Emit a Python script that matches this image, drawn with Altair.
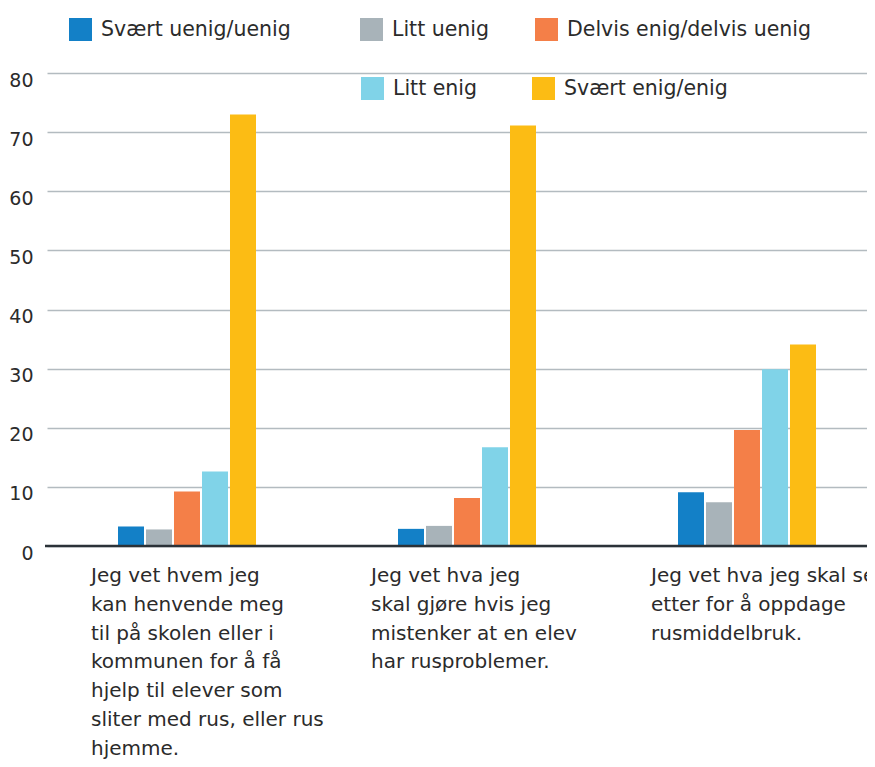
import altair as alt
import pandas as pd

question_ids = ["Q1", "Q2", "Q3"]
question_labels = [
    "Jeg vet hvem jeg\nkan henvende meg\ntil på skolen eller i\nkommunen for å få\nhjelp til elever som\nsliter med rus, eller rus\nhjemme.",
    "Jeg vet hva jeg\nskal gjøre hvis jeg\nmistenker at en elev\nhar rusproblemer.",
    "Jeg vet hva jeg skal se\netter for å oppdage\nrusmiddelbruk.",
]
categories = ["Svært uenig/uenig", "Litt uenig", "Delvis enig/delvis uenig", "Litt enig", "Svært enig/enig"]
colors = ["#1380C7", "#A8B3B9", "#F47F48", "#80D3E8", "#FCBC14"]

svaert_uenig = [3.3, 2.9, 9.1]
litt_uenig = [2.8, 3.4, 7.4]
delvis = [9.2, 8.1, 19.6]
litt_enig = [12.6, 16.7, 29.9]
svaert_enig = [73.0, 71.1, 34.1]
series = [svaert_uenig, litt_uenig, delvis, litt_enig, svaert_enig]

y_ticks = [0, 10, 20, 30, 40, 50, 60, 70, 80]

rows = []
for cat, vals in zip(categories, series):
    for q, v in zip(question_ids, vals):
        rows.append({"q": q, "category": cat, "value": v})
df = pd.DataFrame(rows)
labels_df = pd.DataFrame({"q": question_ids, "label": question_labels})

FONT = "DejaVu Sans"
TXT = "#2B2B2B"

# legend placement (plot coords) for each item
legend_pos = [(24, -55), (315, -55), (490, -55), (316, 4), (487, 4)]

x_enc = alt.X("q:N", scale=alt.Scale(domain=question_ids, range=[2, 842], paddingInner=0, paddingOuter=0), axis=None)
xoff_enc = alt.XOffset("category:N", scale=alt.Scale(domain=categories, range=[71, 209], paddingInner=0.0714, paddingOuter=0))
y_enc = alt.Y("value:Q", scale=alt.Scale(domain=[0, 80], nice=False),
              axis=alt.Axis(values=y_ticks, grid=True, gridColor="#B3BBC0", gridWidth=1.5,
                            domain=False, ticks=False, labelFontSize=19, labelColor=TXT,
                            labelFont=FONT, labelPadding=12, labelOffset=7, title=None))
color_scale = alt.Scale(domain=categories, range=colors)

layers = []
for cat, (lx, ly) in zip(categories, legend_pos):
    layers.append(
        alt.Chart(df).transform_filter(alt.datum.category == cat).mark_bar().encode(
            x=x_enc, xOffset=xoff_enc, y=y_enc,
            color=alt.Color("category:N", scale=color_scale,
                            legend=alt.Legend(values=[cat], orient="none", legendX=lx, legendY=ly,
                                              title=None, padding=0, symbolType="square",
                                              symbolSize=529, symbolStrokeWidth=0, symbolOpacity=1,
                                              labelFontSize=20.5, labelFont=FONT, labelColor=TXT,
                                              labelOffset=9, labelLimit=400))
        )
    )

zero = alt.Chart(pd.DataFrame({"v": [0]})).mark_rule(color="#2B3238", strokeWidth=2.5).encode(y="v:Q")

text = alt.Chart(labels_df).mark_text(
    lineBreak="\n", align="left", baseline="top", dx=-96, lineHeight=28.8,
    fontSize=20, font=FONT, color=TXT
).encode(x=alt.X("q:N", scale=alt.Scale(domain=question_ids, range=[2, 842])), text="label:N", y=alt.value(493))

chart = alt.layer(*layers, zero, text).resolve_legend(color="independent").properties(
    width=822, height=473,
    autosize=alt.AutoSizeParams(type="none"),
    padding={"left": 37, "top": 65, "right": 0, "bottom": 214},
).configure_view(stroke=None)

chart.save("out.html", embed_options={"renderer": "svg", "actions": False})
